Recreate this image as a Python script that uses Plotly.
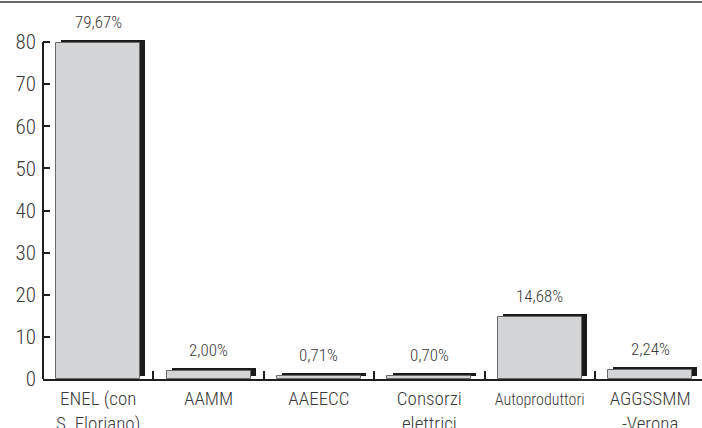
import plotly.graph_objects as go

categories = ["ENEL", "AAMM", "AAEECC", "Consorzi", "Autoproduttori", "AGGSSMM"]
tick_labels = ["ENEL (con<br>S. Floriano)", "AAMM", "AAEECC", "Consorzi<br>elettrici",
               "<span style='font-size:16px'>Autoproduttori</span>", "AGGSSMM<br>-Verona"]
values = [79.67, 2.00, 0.71, 0.70, 14.68, 2.24]
value_labels = ["79,67%", "2,00%", "0,71%", "0,70%", "14,68%", "2,24%"]

FONT = "Roboto Condensed, sans-serif"
px_per_unit = 4.2125
shadow_lift = 3 / px_per_unit
bar_w = 0.76

fig = go.Figure()
# 3D-like shadow bar behind
fig.add_trace(go.Bar(
    x=categories, y=values, base=shadow_lift, width=bar_w, offset=-bar_w / 2 + 0.047,
    marker=dict(color="#1b1b1b", line=dict(width=0)), hoverinfo="skip", showlegend=False,
))
# front gray bar
fig.add_trace(go.Bar(
    x=categories, y=values, width=bar_w, offset=-bar_w / 2,
    marker=dict(color="#d3d4d6", line=dict(color="#6a6a6a", width=1)), showlegend=False,
))

for c, v, t in zip(categories, values, value_labels):
    fig.add_annotation(x=c, y=v + shadow_lift, text=t, showarrow=False, yanchor="bottom",
                       yshift=6, font=dict(family=FONT, size=17, color="#3a3a3a", weight=300))

# y axis line from 0 to 80
fig.add_shape(type="line", xref="paper", yref="y", x0=0, x1=0, y0=0, y1=80,
              line=dict(color="#1e1e1e", width=2))
# top border line
fig.add_shape(type="line", xref="paper", yref="paper", x0=-43 / 659, x1=1,
              y0=(379 - 2) / 345, y1=(379 - 2) / 345, line=dict(color="#333", width=1.5))

fig.update_layout(
    width=702, height=428,
    margin=dict(l=43, r=0, t=34, b=49),
    paper_bgcolor="white", plot_bgcolor="white",
    barmode="overlay", bargap=0,
    font=dict(family=FONT, size=20, color="#3a3a3a", weight=300),
    xaxis=dict(
        type="category", range=[-0.5, 5.47], tickmode="array", tickvals=categories,
        ticktext=tick_labels, tickson="boundaries", ticks="inside", ticklen=8,
        tickwidth=1.5, tickcolor="#1e1e1e", showline=True, linecolor="#1e1e1e",
        linewidth=2, showgrid=False, zeroline=False,
        tickfont=dict(size=19, weight=300), tickangle=0, automargin=False,
        ticklabelstandoff=1,
    ),
    yaxis=dict(
        range=[0, 345 / px_per_unit], tickvals=[0, 10, 20, 30, 40, 50, 60, 70, 80],
        ticks="inside", ticklen=7, tickwidth=2, tickcolor="#1e1e1e", showline=False,
        showgrid=False, zeroline=False, tickfont=dict(size=21, weight=300),
        ticklabelstandoff=6, automargin=False,
    ),
)

fig.write_html("out.html")
